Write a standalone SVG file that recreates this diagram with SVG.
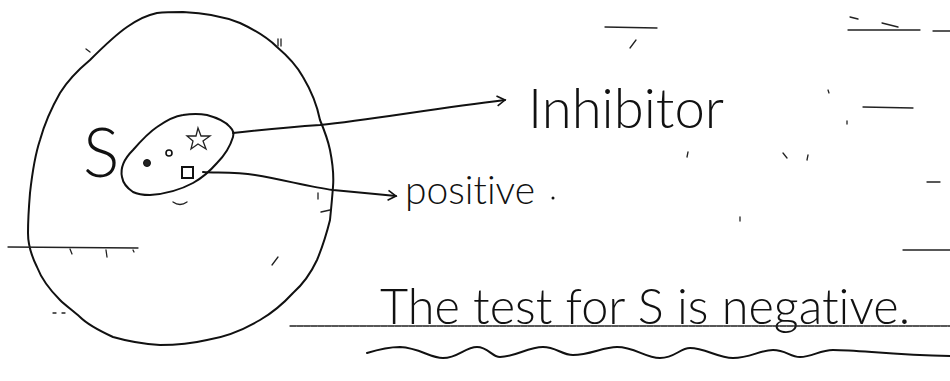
<svg xmlns="http://www.w3.org/2000/svg" width="950" height="381" viewBox="0 0 950 381">
<style>
.ink{fill:none;stroke:#111;stroke-width:2;stroke-linecap:round;stroke-linejoin:round}
.thin{fill:none;stroke:#222;stroke-width:1.3;stroke-linecap:round}
.hand{font-family:"Lato","Liberation Sans",sans-serif;font-weight:300;fill:#111;font-variant-ligatures:none}
</style>
<defs>
<marker id="chev" viewBox="0 0 12 12" refX="10" refY="6" markerWidth="12" markerHeight="12" markerUnits="userSpaceOnUse" orient="auto">
<path d="M2,1 L10,6 L2,11" fill="none" stroke="#111" stroke-width="1.6"/>
</marker>
</defs>
<rect width="950" height="381" fill="#fff"/>
<g id="outer-circle">
<path class="ink" d="M183,12 C210,13 225,17 240,23 C255,30 268,38 277,47 C290,58 298,68 303,77 C312,92 317,105 320,120 C325,132 328,140 330,150 C333,165 334,175 333,187 C332,200 331,210 330,220 C326,236 322,248 317,260 C310,275 302,285 293,293 C282,305 272,313 260,320 C243,330 225,337 207,340 C190,344 175,345 160,345 C143,344 127,341 113,337 C100,331 88,325 80,317 C72,310 65,305 60,300 C50,290 42,280 37,267 C31,255 28,245 28,233 C28,220 29,205 30,193 C32,175 35,155 40,140 C45,122 52,107 60,93 C68,80 78,70 90,60 C102,48 114,36 127,27 C137,20 147,15 157,13 C166,12 175,12 183,12 Z"/>
</g>
<g id="S-label">
<text class="hand" x="83" y="177" font-size="68">S</text>
</g>
<g id="inner-ellipse">
<path class="ink" d="M157,127 C167,120 175,116 183,115 C195,113 202,114 207,115 C218,118 226,122 230,127 C234,131 234,134 233,137 C230,147 224,156 217,163 C210,171 202,178 193,183 C180,190 165,194 150,195 C142,195 137,194 133,192 C127,188 123,183 122,177 C120,168 125,158 133,150 C140,142 148,133 157,127 Z"/>
<circle cx="147" cy="163" r="3.5" fill="#222" stroke="#111" stroke-width="1"/>
<circle cx="169" cy="153" r="3" fill="none" stroke="#111" stroke-width="1.6"/>
<path class="thin" stroke-width="2" d="M198,128 L201,136 L210,136 L203,141 L206,149 L198,144 L191,149 L193,141 L187,136 L196,136 Z"/>
<rect x="182" y="167" width="11" height="11" fill="none" stroke="#111" stroke-width="2"/>
</g>
<g id="connectors">
<path class="ink" marker-end="url(#chev)" d="M233,133 C260,130 290,127 320,125 C370,120 430,109 505,100"/>
<path class="ink" marker-end="url(#chev)" d="M203,172 C215,173 235,172 255,175 C285,180 310,187 333,190 C355,192 375,194 396,196"/>
</g>
<g id="inhibitor-label">
<text class="hand" x="528" y="128" font-size="56" textLength="196" lengthAdjust="spacingAndGlyphs">Inhibitor</text>
</g>
<g id="positive-label">
<text class="hand" x="405" y="204" font-size="40" textLength="130" lengthAdjust="spacingAndGlyphs">positive</text>
<circle cx="553" cy="198" r="1.5" fill="#111"/>
</g>
<g id="conclusion">
<text class="hand" x="380" y="324" font-size="50" textLength="530" lengthAdjust="spacingAndGlyphs">The test for S is negative.</text>
<path class="thin" stroke-dasharray="6 1" d="M290,326 L950,326"/>
<path class="ink" stroke-width="1.6" d="M367,353 C380,349 390,347 400,347 C420,348 430,358 443,358 C458,358 465,347 477,347 C488,347 492,357 500,357 C515,357 528,347 543,347 C556,347 562,355 573,355 C590,355 603,347 617,347 C635,347 645,358 660,358 C675,358 680,348 690,348 C705,348 718,358 733,358 C750,358 760,350 773,350 C786,350 790,357 800,357 C812,357 820,350 833,350 C860,350 890,355 950,356"/>
</g>
<g id="marks" class="thin">
<path d="M8,247 L138,248"/>
<path d="M70,249 L72,254 M106,250 L107,257 M133,250 L134,252"/>
<path d="M86,49 L90,52"/>
<path d="M278,39 L278,46 M281,39 L281,46"/>
<path d="M173,202 Q180,207 187,202"/>
<path d="M318,193 L318,199 M321,212 L330,210"/>
<path d="M272,265 L278,257"/>
<path d="M53,313 L56,313 M62,313 L65,313"/>
<path d="M605,27 L657,28 M630,48 L636,40"/>
<path d="M848,30 L920,30 M933,31 L950,31 M850,17 L858,19 M882,23 L898,27"/>
<path d="M863,107 L913,108"/>
<path d="M828,90 L829,93 M847,121 L847,124"/>
<path d="M688,152 L687,157 M783,153 L787,158 M808,155 L807,160"/>
<path d="M740,217 L740,221"/>
<path d="M927,182 L940,182"/>
<path d="M903,250 L950,250"/>
</g>
</svg>
